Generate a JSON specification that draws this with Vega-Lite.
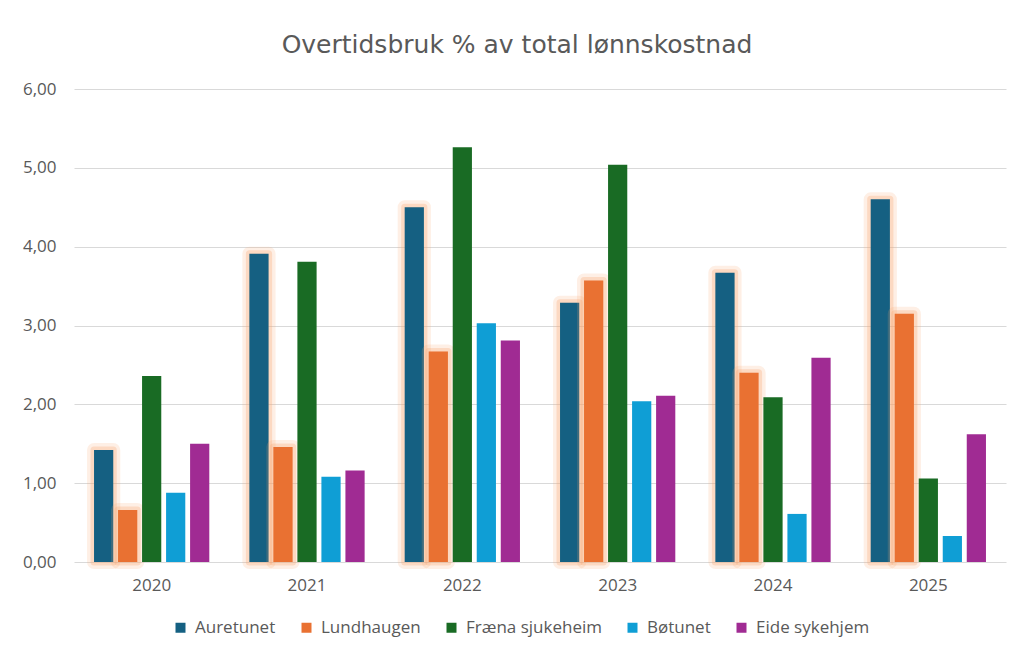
{
  "$schema": "https://vega.github.io/schema/vega-lite/v6.json",
  "width": 932,
  "height": 473,
  "autosize": {"type": "none"},
  "padding": {"left": 74, "top": 89, "right": 9, "bottom": 92},
  "background": "white",
  "config": {
    "locale": {"number": {"decimal": ",", "thousands": " ", "grouping": [3], "currency": ["", " kr"]}},
    "view": {"stroke": null},
    "font": "Open Sans"
  },
  "title": {
    "text": "Overtidsbruk % av total lønnskostnad",
    "fontSize": 25,
    "fontWeight": "normal",
    "color": "#595959",
    "font": "DejaVu Sans",
    "anchor": "middle",
    "dx": -23,
    "offset": 22
  },
  "data": {
    "values": [
      {"year": "2020", "site": "Auretunet", "value": 1.42},
      {"year": "2020", "site": "Lundhaugen", "value": 0.66},
      {"year": "2020", "site": "Fræna sjukeheim", "value": 2.36},
      {"year": "2020", "site": "Bøtunet", "value": 0.88},
      {"year": "2020", "site": "Eide sykehjem", "value": 1.50},
      {"year": "2021", "site": "Auretunet", "value": 3.91},
      {"year": "2021", "site": "Lundhaugen", "value": 1.46},
      {"year": "2021", "site": "Fræna sjukeheim", "value": 3.81},
      {"year": "2021", "site": "Bøtunet", "value": 1.08},
      {"year": "2021", "site": "Eide sykehjem", "value": 1.16},
      {"year": "2022", "site": "Auretunet", "value": 4.50},
      {"year": "2022", "site": "Lundhaugen", "value": 2.67},
      {"year": "2022", "site": "Fræna sjukeheim", "value": 5.26},
      {"year": "2022", "site": "Bøtunet", "value": 3.03},
      {"year": "2022", "site": "Eide sykehjem", "value": 2.81},
      {"year": "2023", "site": "Auretunet", "value": 3.29},
      {"year": "2023", "site": "Lundhaugen", "value": 3.57},
      {"year": "2023", "site": "Fræna sjukeheim", "value": 5.04},
      {"year": "2023", "site": "Bøtunet", "value": 2.04},
      {"year": "2023", "site": "Eide sykehjem", "value": 2.11},
      {"year": "2024", "site": "Auretunet", "value": 3.67},
      {"year": "2024", "site": "Lundhaugen", "value": 2.40},
      {"year": "2024", "site": "Fræna sjukeheim", "value": 2.09},
      {"year": "2024", "site": "Bøtunet", "value": 0.61},
      {"year": "2024", "site": "Eide sykehjem", "value": 2.59},
      {"year": "2025", "site": "Auretunet", "value": 4.60},
      {"year": "2025", "site": "Lundhaugen", "value": 3.15},
      {"year": "2025", "site": "Fræna sjukeheim", "value": 1.06},
      {"year": "2025", "site": "Bøtunet", "value": 0.33},
      {"year": "2025", "site": "Eide sykehjem", "value": 1.62}
    ]
  },
  "encoding": {
    "x": {
      "field": "year",
      "type": "nominal",
      "scale": {"paddingInner": 0.227, "paddingOuter": 0.1135},
      "axis": {
        "title": null,
        "labelAngle": 0,
        "ticks": false,
        "domain": false,
        "labelFontSize": 17,
        "labelColor": "#595959",
        "labelPadding": 15,
        "labelFont": "Open Sans"
      }
    },
    "xOffset": {
      "field": "site",
      "type": "nominal",
      "scale": {
        "domain": ["Auretunet", "Lundhaugen", "Fræna sjukeheim", "Bøtunet", "Eide sykehjem"],
        "paddingInner": 0.2,
        "paddingOuter": 0.1
      }
    },
    "y": {
      "field": "value",
      "type": "quantitative",
      "scale": {"domain": [0, 6]},
      "axis": {
        "title": null,
        "format": ".2f",
        "values": [0, 1, 2, 3, 4, 5, 6],
        "labelOverlap": false,
        "ticks": false,
        "domain": false,
        "gridColor": "#d9d9d9",
        "gridWidth": 1,
        "labelFontSize": 17,
        "labelColor": "#595959",
        "labelPadding": 18,
        "labelFont": "Open Sans"
      }
    }
  },
  "layer": [
    {
      "transform": [{"filter": "datum.site === 'Auretunet'"}],
      "mark": {"type": "bar", "fill": "#F4B183", "fillOpacity": 0.2, "stroke": "#F7A56F", "strokeWidth": 14, "strokeOpacity": 0.18, "strokeJoin": "round"}
    },
    {
      "transform": [{"filter": "datum.site === 'Auretunet'"}],
      "mark": {"type": "bar", "fillOpacity": 0, "stroke": "#F7A56F", "strokeWidth": 7, "strokeOpacity": 0.3, "strokeJoin": "round"}
    },
    {
      "transform": [{"filter": "datum.site === 'Auretunet'"}],
      "mark": {"type": "bar"},
      "encoding": {
        "color": {
          "field": "site",
          "type": "nominal",
          "scale": {
            "domain": ["Auretunet", "Lundhaugen", "Fræna sjukeheim", "Bøtunet", "Eide sykehjem"],
            "range": ["#156082", "#E97132", "#196B24", "#0F9ED5", "#A02B93"]
          },
          "legend": {
            "orient": "none",
            "legendX": 98,
            "legendY": 530,
            "padding": 0,
            "direction": "horizontal",
            "title": null,
            "symbolType": "square",
            "symbolSize": 100,
            "symbolStrokeWidth": 0,
            "labelFontSize": 17,
            "labelColor": "#595959",
            "labelFont": "Open Sans",
            "columnPadding": 22,
            "labelOffset": 6
          }
        }
      }
    },
    {
      "transform": [{"filter": "datum.site === 'Lundhaugen'"}],
      "mark": {"type": "bar", "fill": "#F4B183", "fillOpacity": 0.2, "stroke": "#F7A56F", "strokeWidth": 14, "strokeOpacity": 0.18, "strokeJoin": "round"}
    },
    {
      "transform": [{"filter": "datum.site === 'Lundhaugen'"}],
      "mark": {"type": "bar", "fillOpacity": 0, "stroke": "#F7A56F", "strokeWidth": 7, "strokeOpacity": 0.3, "strokeJoin": "round"}
    },
    {
      "transform": [{"filter": "datum.site !== 'Auretunet'"}],
      "mark": {"type": "bar"},
      "encoding": {
        "color": {
          "field": "site",
          "type": "nominal",
          "scale": {
            "domain": ["Auretunet", "Lundhaugen", "Fræna sjukeheim", "Bøtunet", "Eide sykehjem"],
            "range": ["#156082", "#E97132", "#196B24", "#0F9ED5", "#A02B93"]
          }
        }
      }
    }
  ]
}
